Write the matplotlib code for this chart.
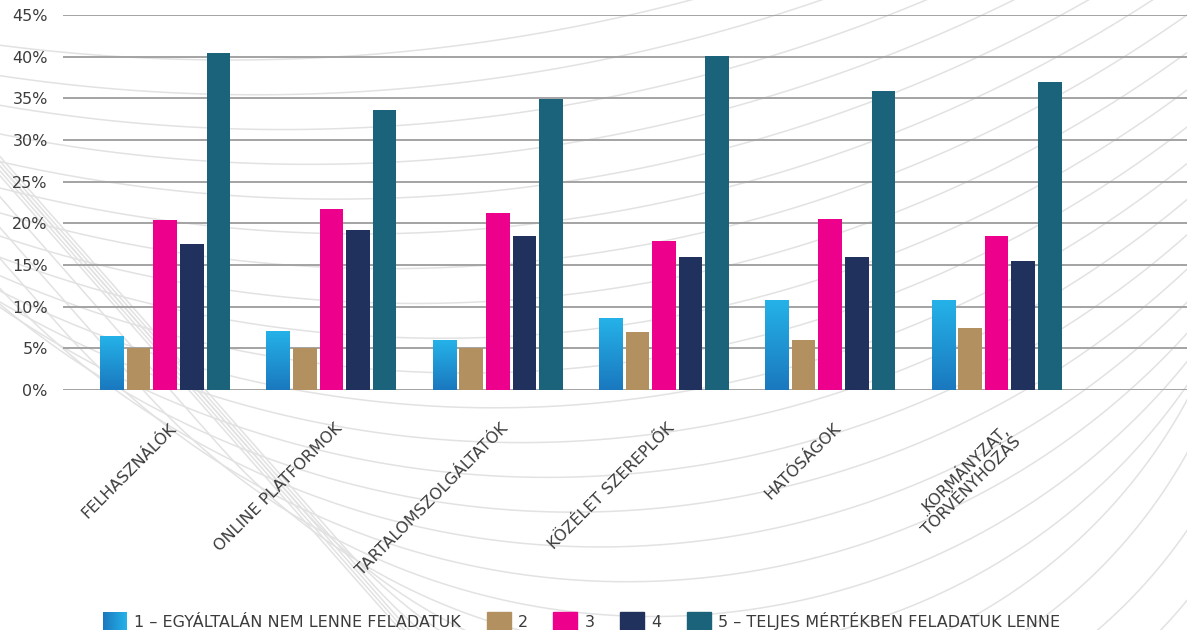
import numpy as np
import matplotlib.pyplot as plt
from matplotlib.patches import Rectangle, Patch
from matplotlib.colors import LinearSegmentedColormap
from matplotlib.legend_handler import HandlerBase
from matplotlib.transforms import ScaledTranslation

plt.rcParams['font.family'] = ['DejaVu Sans']

# data
categories = ["FELHASZNÁLÓK", "ONLINE PLATFORMOK", "TARTALOMSZOLGÁLTATÓK",
              "KÖZÉLET SZEREPLŐK", "HATÓSÁGOK", "KORMÁNYZAT,\nTÖRVÉNYHOZÁS"]
series_names = ["1 – EGYÁLTALÁN NEM LENNE FELADATUK", "2", "3", "4",
                "5 – TELJES MÉRTÉKBEN FELADATUK LENNE"]
val_1 = [6.4, 7.0, 6.0, 8.6, 10.8, 10.8]
val_2 = [5.0, 5.0, 5.0, 7.0, 6.0, 7.4]
val_3 = [20.4, 21.7, 21.2, 17.9, 20.5, 18.5]
val_4 = [17.5, 19.2, 18.5, 16.0, 16.0, 15.5]
val_5 = [40.4, 33.6, 34.9, 40.1, 35.9, 37.0]
yticks = [0, 5, 10, 15, 20, 25, 30, 35, 40, 45]

colors = ["#1f8fd3", "#b39060", "#ec008c", "#21315e", "#1a637a"]
blue_grad = LinearSegmentedColormap.from_list("bg", ["#1a78bf", "#25b2e8"])
text_col = "#3c3c3c"

fig = plt.figure(figsize=(11.87, 6.30), dpi=100)

# decorative background curves: lower arc + straight tail to the upper left
bg = fig.add_axes([0, 0, 1, 1], zorder=0)
bg.set_xlim(0, 1187); bg.set_ylim(630, 0); bg.axis('off')
for t in np.linspace(0, 1.6, 24):
    xm = 230 + 380 * t
    ym = 60 + 500 * t
    R = max(1800 - 1000 * t, 520)
    cx, cy = xm, ym - R
    tmax = 0.77 * np.pi
    th = np.linspace(0.0, tmax, 500)
    px = cx + R * np.cos(th)
    py = cy + R * np.sin(th)
    s = np.linspace(0, 2000, 50)
    tx = px[-1] - np.sin(tmax) * s
    ty = py[-1] + np.cos(tmax) * s
    bg.plot(np.r_[px, tx], np.r_[py, ty], color="#e2e2e2", lw=1.1)

ax = fig.add_axes([63 / 1187, 240 / 630, 1 - 63 / 1187, 375 / 630], zorder=1)
ax.patch.set_alpha(0)

x = np.arange(len(categories))
pitch, w = 0.16, 0.142
series = [val_1, val_2, val_3, val_4, val_5]
for i, vals in enumerate(series):
    pos = x + (i - 2) * pitch
    if i == 0:
        bars = ax.bar(pos, vals, w, color='none', zorder=3)
        grad = np.linspace(0, 1, 100).reshape(-1, 1)
        for b in bars:
            ax.imshow(grad, cmap=blue_grad, origin='lower', aspect='auto',
                      extent=[b.get_x(), b.get_x() + b.get_width(), 0, b.get_height()],
                      zorder=3)
    else:
        ax.bar(pos, vals, w, color=colors[i], zorder=3)

ax.set_xlim(-0.614, 6.145)
ax.set_ylim(0, 45)
ax.set_yticks(yticks, [f"{v}%" for v in yticks])
ax.yaxis.grid(True, color="#a3a3a3", lw=1.4)
ax.set_axisbelow(True)
for s in ax.spines.values():
    s.set_visible(False)
ax.tick_params(axis='y', length=0, pad=11, labelsize=11.5, labelcolor=text_col)
ax.tick_params(axis='x', length=0, pad=22, labelsize=11.5, labelcolor=text_col)
ax.set_xticks(x, categories, rotation=45, ha='right', va='top', rotation_mode='anchor')
for lab in ax.get_xticklabels():
    lab.set_transform(lab.get_transform() + ScaledTranslation(0.03, 0, fig.dpi_scale_trans))


class GradientHandler(HandlerBase):
    def create_artists(self, legend, orig_handle, xdescent, ydescent,
                       width, height, fontsize, trans):
        n = 24
        arts = []
        for k in range(n):
            arts.append(Rectangle((-xdescent + k * width / n, -ydescent), width / n * 1.08, height,
                                  facecolor=blue_grad(k / (n - 1)), edgecolor='none',
                                  transform=trans))
        return arts


grad_handle = Rectangle((0, 0), 1, 1)
handles = [grad_handle] + [Patch(color=c) for c in colors[1:]]
fig.legend(handles, series_names, handler_map={grad_handle: GradientHandler()},
           loc='lower center', bbox_to_anchor=(0.49, -0.025), ncol=5, frameon=False,
           fontsize=11.5, labelcolor=text_col, handlelength=1.5, handleheight=1.5,
           handletextpad=0.45, columnspacing=1.6)

fig.savefig("out.png", dpi=100)
